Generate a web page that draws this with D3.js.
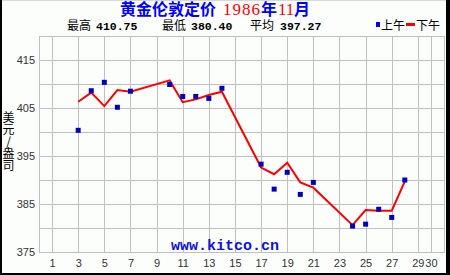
<!DOCTYPE html>
<html><head><meta charset="utf-8">
<script src="https://cdn.jsdelivr.net/npm/d3@7"></script>
<style>
html,body{margin:0;padding:0;background:#fff;}
svg{display:block;}
</style></head>
<body>
<script>
const days = [3,4,5,6,7,10,11,12,13,14,17,18,19,20,21,24,25,26,27,28];
const amValues = [400.35,408.6,410.35,405.15,408.5,409.9,407.4,407.4,407.0,409.1,393.3,388.1,391.6,387.0,389.5,380.4,380.8,383.9,382.2,390.0];
const pmValues = [406.3,408.2,405.4,408.75,408.4,410.75,406.2,406.8,407.7,408.4,392.6,391.2,393.6,389.5,388.4,380.6,383.75,383.6,383.6,389.7];
const xTicks = [1,3,5,7,9,11,13,15,17,19,21,23,25,27,29,30];
const yTicks = [375,385,395,405,415];
const yGrid = [380,385,390,395,400,405,410,415];
const stats = {high:"410.75", low:"380.40", avg:"397.27"};

const W=450,H=275;
const svg=d3.select("body").append("svg").attr("width",W).attr("height",H);
svg.append("rect").attr("width",W).attr("height",H).attr("fill","#fbfefb");
// outer frame
svg.append("line").attr("x1",0).attr("x2",W).attr("y1",0.5).attr("y2",0.5).attr("stroke","#d8d8d8");
svg.append("rect").attr("x",0).attr("y",0).attr("width",2).attr("height",H).attr("fill","#000");
svg.append("rect").attr("x",446).attr("y",0).attr("width",4).attr("height",H).attr("fill","#000");
svg.append("rect").attr("x",0).attr("y",273).attr("width",W).attr("height",2).attr("fill","#000");

const x=d3.scaleLinear().domain([0,31]).range([39,444]);
const y=d3.scaleLinear().domain([375,420]).range([252,36]);
const gridC="#c0c0c0";

const g=svg.append("g");
g.selectAll(".vg").data(xTicks).enter().append("line")
 .attr("x1",d=>Math.round(x(d))+0.5).attr("x2",d=>Math.round(x(d))+0.5)
 .attr("y1",y(420)).attr("y2",y(375)).attr("stroke",gridC);
g.selectAll(".hg").data(yGrid).enter().append("line")
 .attr("y1",d=>Math.round(y(d))+0.5).attr("y2",d=>Math.round(y(d))+0.5)
 .attr("x1",x(0)).attr("x2",x(31)).attr("stroke",gridC);
// plot frame
g.append("rect").attr("x",x(0)+0.5).attr("y",y(420)+0.5).attr("width",x(31)-x(0)).attr("height",y(375)-y(420))
 .attr("fill","none").attr("stroke",gridC);

// axes
const xAxis=d3.axisBottom(x).tickValues(xTicks).tickSize(0).tickPadding(7).tickFormat(d3.format("d"));
const xa=svg.append("g").attr("transform",`translate(0,${y(375)})`).call(xAxis);
xa.select(".domain").remove();
xa.selectAll("text").attr("font-family","Liberation Sans, Arial, sans-serif").attr("font-size",11).attr("fill","#333");
const yAxis=d3.axisLeft(y).tickValues(yTicks).tickSize(0).tickPadding(4).tickFormat(d3.format("d"));
const ya=svg.append("g").attr("transform",`translate(${x(0)},0)`).call(yAxis);
ya.select(".domain").remove();
ya.selectAll("text").attr("font-family","Liberation Sans, Arial, sans-serif").attr("font-size",11).attr("fill","#333");

// watermark
svg.append("text").attr("x",225).attr("y",250).attr("text-anchor","middle")
 .attr("font-family","Liberation Mono, DejaVu Sans Mono, monospace").attr("font-weight","bold").attr("font-size",15)
 .attr("fill","#1010e0").text("www.kitco.cn");

// PM line
const line=d3.line().x((d,i)=>x(days[i])).y(d=>y(d));
svg.append("path").datum(pmValues).attr("d",line).attr("fill","none").attr("stroke","#ff0000").attr("stroke-width",2);
// AM squares
svg.selectAll(".am").data(amValues).enter().append("rect")
 .attr("x",(d,i)=>x(days[i])-2.5).attr("y",d=>y(d)-2.5).attr("width",5).attr("height",5).attr("fill","#0000c0");

// title
const t=svg.append("text").attr("y",15).attr("font-weight","bold").attr("font-size",16)
 .attr("font-family","Liberation Sans, Noto Sans CJK SC, sans-serif");
t.append("tspan").attr("x",120).attr("fill","#0000ff").text("黄金伦敦定价");
t.append("tspan").attr("x",223).attr("fill","#ff0000").attr("font-family","Liberation Serif, serif").attr("font-weight","normal").attr("font-size",17).attr("textLength",37).text("1986");
t.append("tspan").attr("x",261).attr("fill","#0000ff").text("年");
t.append("tspan").attr("x",278).attr("fill","#ff0000").attr("font-family","Liberation Serif, serif").attr("font-weight","normal").attr("font-size",17).text("11");
t.append("tspan").attr("x",294).attr("fill","#0000ff").text("月");

// stats
const sansF="Liberation Sans, Noto Sans CJK SC, sans-serif";
const s=svg.append("text").attr("y",30).attr("font-size",12).attr("fill","#000")
 .attr("font-family",sansF);
const monoF="Liberation Mono, DejaVu Sans Mono, monospace";
s.append("tspan").attr("x",67).text("最高");
s.append("tspan").attr("x",96).attr("font-family",monoF).attr("font-weight","bold").attr("font-size",11.5).text(stats.high);
s.append("tspan").attr("x",162).text("最低");
s.append("tspan").attr("x",191).attr("font-family",monoF).attr("font-weight","bold").attr("font-size",11.5).text(stats.low);
s.append("tspan").attr("x",250).text("平均");
s.append("tspan").attr("x",280).attr("font-family",monoF).attr("font-weight","bold").attr("font-size",11.5).text(stats.avg);

// legend
svg.append("rect").attr("x",376).attr("y",22).attr("width",4).attr("height",5).attr("fill","#0000ff");
svg.append("text").attr("x",381).attr("y",30).attr("font-size",12).attr("font-family",sansF).text("上午");
svg.append("rect").attr("x",406).attr("y",23).attr("width",9).attr("height",3).attr("fill","#ff0000");
svg.append("text").attr("x",416).attr("y",30).attr("font-size",12).attr("font-family",sansF).text("下午");

// y label, vertical
svg.append("text").attr("x",8.5).attr("y",111)
 .style("writing-mode","vertical-rl").style("text-orientation","upright")
 .attr("font-size",12).attr("font-family","Noto Sans CJK SC, sans-serif").text("美元/盎司");
</script>
</body></html>
